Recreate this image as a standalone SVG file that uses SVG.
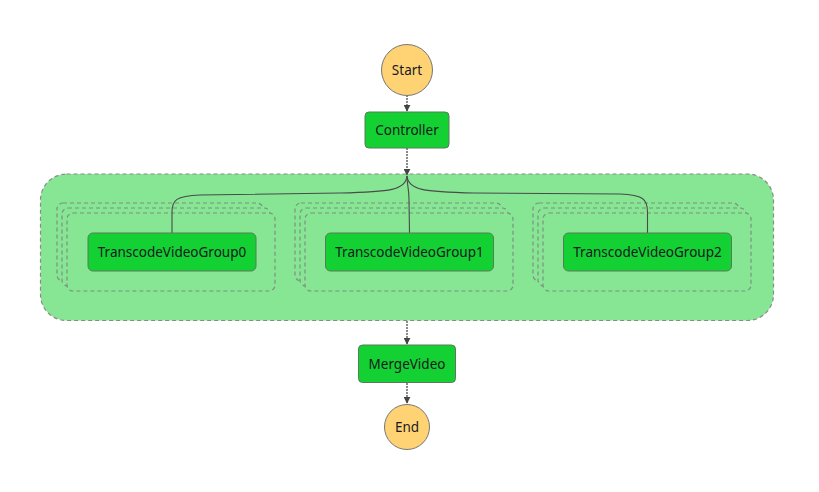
<svg xmlns="http://www.w3.org/2000/svg" width="819" height="492" viewBox="0 0 819 492">
  <style>
    .lbl { font-family: "Noto Sans", "Open Sans", "Liberation Sans", sans-serif; font-size: 13.5px; fill: #16191f; text-anchor: middle; dominant-baseline: central; }
    .term { fill: #ffd374; stroke: #777; stroke-width: 1; }
    .task { fill: #14d133; stroke: #5a7a5a; stroke-width: 1; }
    .group { fill: #86e694; stroke: #8a8a8a; stroke-width: 1.2; stroke-dasharray: 4 3; }
    .iter { fill: #86e694; stroke: #7f8f80; stroke-width: 1.2; stroke-dasharray: 4 3; }
    .edge { fill: none; stroke: #666; stroke-width: 1.5; stroke-dasharray: 2 1; }
    .branch { fill: none; stroke: #4a4a4a; stroke-width: 1.1; }
  </style>
  <defs>
    <marker id="arrow" viewBox="0 0 10 10" refX="9" refY="5" markerWidth="7" markerHeight="7" markerUnits="userSpaceOnUse" orient="auto">
      <path d="M0,0 L10,5 L0,10 z" fill="#444"/>
    </marker>
  </defs>

  <!-- parallel container -->
  <g id="parallel">
    <rect class="group" x="40.5" y="174" width="733" height="146.5" rx="26"/>
  </g>

  <!-- iteration stacks -->
  <g id="stack0">
    <rect class="iter" x="57" y="203" width="206" height="78" rx="6"/>
    <rect class="iter" x="62" y="208" width="208" height="78" rx="6"/>
    <rect class="iter" x="67" y="213" width="208" height="78" rx="6"/>
  </g>
  <g id="stack1">
    <rect class="iter" x="295" y="203" width="207" height="78" rx="6"/>
    <rect class="iter" x="300" y="208" width="208" height="78" rx="6"/>
    <rect class="iter" x="305" y="213" width="208" height="78" rx="6"/>
  </g>
  <g id="stack2">
    <rect class="iter" x="533" y="203" width="206" height="78" rx="6"/>
    <rect class="iter" x="538" y="208" width="208" height="78" rx="6"/>
    <rect class="iter" x="543" y="213" width="208" height="78" rx="6"/>
  </g>

  <!-- connectors -->
  <g id="connectors">
    <path class="edge" d="M407,95 L407,111" marker-end="url(#arrow)"/>
    <path class="edge" d="M407,148 L407,175" marker-end="url(#arrow)"/>
    <path class="branch" d="M407,176 C406,190 390,192 340,193 L200,195 C176,196 172,200 172,212 L172,233"/>
    <path class="branch" d="M407,176 C407,185 409,188 409,200 L409.5,233"/>
    <path class="branch" d="M407,176 C408,190 424,192 474,193 L620,194 C643,195 647.5,199 647.5,212 L647.5,233"/>
    <path class="edge" d="M407,321 L407,344" marker-end="url(#arrow)"/>
    <path class="edge" d="M407,383 L407,403" marker-end="url(#arrow)"/>
  </g>

  <g id="start">
    <circle class="term" cx="407" cy="70" r="25.5"/>
    <text class="lbl" x="407" y="70">Start</text>
  </g>
  <g id="controller">
    <rect class="task" x="365" y="112" width="84" height="36" rx="4"/>
    <text class="lbl" x="407" y="130">Controller</text>
  </g>
  <g id="transcode0">
    <rect class="task" x="88" y="233" width="168" height="38" rx="5"/>
    <text class="lbl" x="172" y="252">TranscodeVideoGroup0</text>
  </g>
  <g id="transcode1">
    <rect class="task" x="325.5" y="233" width="168" height="38" rx="5"/>
    <text class="lbl" x="409.5" y="252">TranscodeVideoGroup1</text>
  </g>
  <g id="transcode2">
    <rect class="task" x="563.5" y="233" width="168" height="38" rx="5"/>
    <text class="lbl" x="647.5" y="252">TranscodeVideoGroup2</text>
  </g>
  <g id="merge">
    <rect class="task" x="358.5" y="345" width="97" height="37.5" rx="4"/>
    <text class="lbl" x="407" y="364">MergeVideo</text>
  </g>
  <g id="end">
    <circle class="term" cx="407" cy="427" r="22.5"/>
    <text class="lbl" x="407" y="427">End</text>
  </g>
</svg>
